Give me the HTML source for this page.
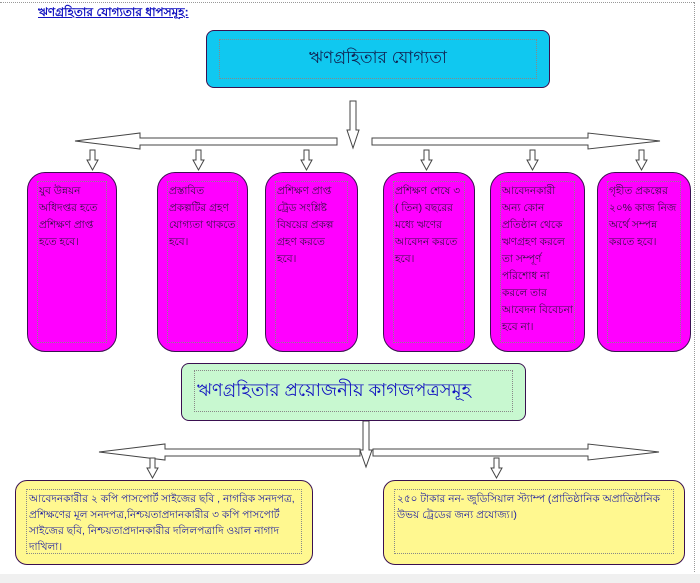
<!DOCTYPE html>
<html><head><meta charset="utf-8"><style>
body{margin:0;width:700px;height:583px;background:#fff;position:relative;overflow:hidden;font-family:"Liberation Sans","Noto Sans CJK SC",sans-serif}
.b{position:absolute;box-sizing:border-box;border:1.5px solid #3a1050}
.in{position:absolute;border:1px dotted #888;box-sizing:border-box}
.m{background:#ff00ff;border-radius:18px}
.m .in{left:9px;right:9px;top:8px;bottom:8px;font-size:10.5px;line-height:17px;color:#301040;padding:1px}
.t{font-size:10.5px;color:#2020a0;line-height:16px}
</style></head><body>
<div style="position:absolute;left:0;top:2px;width:694px;border-top:1px dotted #999"></div>
<div style="position:absolute;left:694px;top:2px;height:570px;border-left:1px dotted #999"></div>
<div style="position:absolute;left:0;top:574px;width:700px;height:9px;background:#f0f0f0"></div>
<div style="position:absolute;left:38px;top:4px;font-size:12px;color:#1010c0;text-decoration:underline;font-weight:bold">ঋণগ্রহিতার যোগ্যতার ধাপসমূহ:</div>

<div class="b" style="left:206px;top:30px;width:344px;height:58px;background:#10c8f0;border-radius:8px">
<div class="in" style="left:12px;right:12px;top:8px;bottom:8px;display:flex;align-items:center;justify-content:center;font-size:17px;color:#102050">ঋণগ্রহিতার যোগ্যতা</div></div>

<svg width="700" height="583" style="position:absolute;left:0;top:0" fill="#fff" stroke="#444" stroke-width="1">
<polygon points="350,101 356,101 356,130 359,130 353,148 347,130 350,130"/>
<polygon points="75,141 140,133 140,138 337,138 337,145 140,145 140,149"/>
<polygon points="372,138 588,138 588,133 660,141 588,149 588,145 372,145"/>
<g id="d"><polygon points="90,150 95,150 95,160 98,160 92.5,170 87,160 90,160"/></g>
<use href="#d" x="106"/><use href="#d" x="214"/><use href="#d" x="334"/><use href="#d" x="440"/><use href="#d" x="549"/>
<polygon points="363,421 369,421 369,450 372,450 366,467 360,450 363,450"/>
<polygon points="99,452 165,444 165,449 360,449 360,456 165,456 165,460"/>
<polygon points="373,449 588,449 588,444 659,452 588,460 588,456 373,456"/>
<use href="#d" x="60" y="308"/><use href="#d" x="404" y="308"/>
</svg>

<div class="b m" style="left:27px;top:172px;width:90px;height:180px"><div class="in">যুব উন্নয়ন অধিদপ্তর হতে প্রশিক্ষণ প্রাপ্ত হতে হবে।</div></div>
<div class="b m" style="left:157px;top:172px;width:91px;height:180px"><div class="in">প্রস্তাবিত প্রকল্পটির গ্রহণ যোগ্যতা থাকতে হবে।</div></div>
<div class="b m" style="left:265px;top:172px;width:93px;height:180px"><div class="in">প্রশিক্ষণ প্রাপ্ত ট্রেড সংশ্লিষ্ট বিষয়ের প্রকল্প গ্রহণ করতে হবে।</div></div>
<div class="b m" style="left:383px;top:172px;width:92px;height:180px"><div class="in">প্রশিক্ষণ শেষে ৩ ( তিন) বছরের মধ্যে ঋণের আবেদন করতে হবে।</div></div>
<div class="b m" style="left:490px;top:172px;width:95px;height:180px"><div class="in">আবেদনকারী অন্য কোন প্রতিষ্ঠান থেকে ঋণগ্রহণ করলে তা সম্পূর্ণ পরিশোধ না করলে তার আবেদন বিবেচনা হবে না।</div></div>
<div class="b m" style="left:597px;top:172px;width:94px;height:180px"><div class="in">গৃহীত প্রকল্পের ২০% কাজ নিজ অর্থে সম্পন্ন করতে হবে।</div></div>

<div class="b" style="left:181px;top:363px;width:345px;height:58px;background:#c8f8d0;border-radius:8px">
<div class="in" style="left:12px;right:12px;top:6px;bottom:8px;display:flex;align-items:center;font-size:18px;color:#1010c0;padding-left:2px">ঋণগ্রহিতার প্রয়োজনীয় কাগজপত্রসমূহ</div></div>

<div class="b" style="left:15px;top:480px;width:298px;height:85px;background:#fff890;border-radius:12px">
<div class="in t" style="left:10px;right:10px;top:8px;bottom:10px;padding:1px 2px"> আবেদনকারীর ২ কপি পাসপোর্ট সাইজের ছবি , নাগরিক সনদপত্র, প্রশিক্ষণের মূল সনদপত্র,নিশ্চয়তাপ্রদানকারীর ৩ কপি পাসপোর্ট সাইজের ছবি, নিশ্চয়তাপ্রদানকারীর দলিলপত্রাদি ওয়াল নাগাদ দাখিলা।</div></div>
<div class="b" style="left:383px;top:480px;width:302px;height:85px;background:#fff890;border-radius:12px">
<div class="in t" style="left:10px;right:10px;top:8px;bottom:10px;padding:1px 2px">২৫০ টাকার নন- জুডিসিয়াল স্ট্যাম্প (প্রাতিষ্ঠানিক অপ্রাতিষ্ঠানিক উভয় ট্রেডের জন্য প্রযোজ্য।)</div></div>
</body></html>
